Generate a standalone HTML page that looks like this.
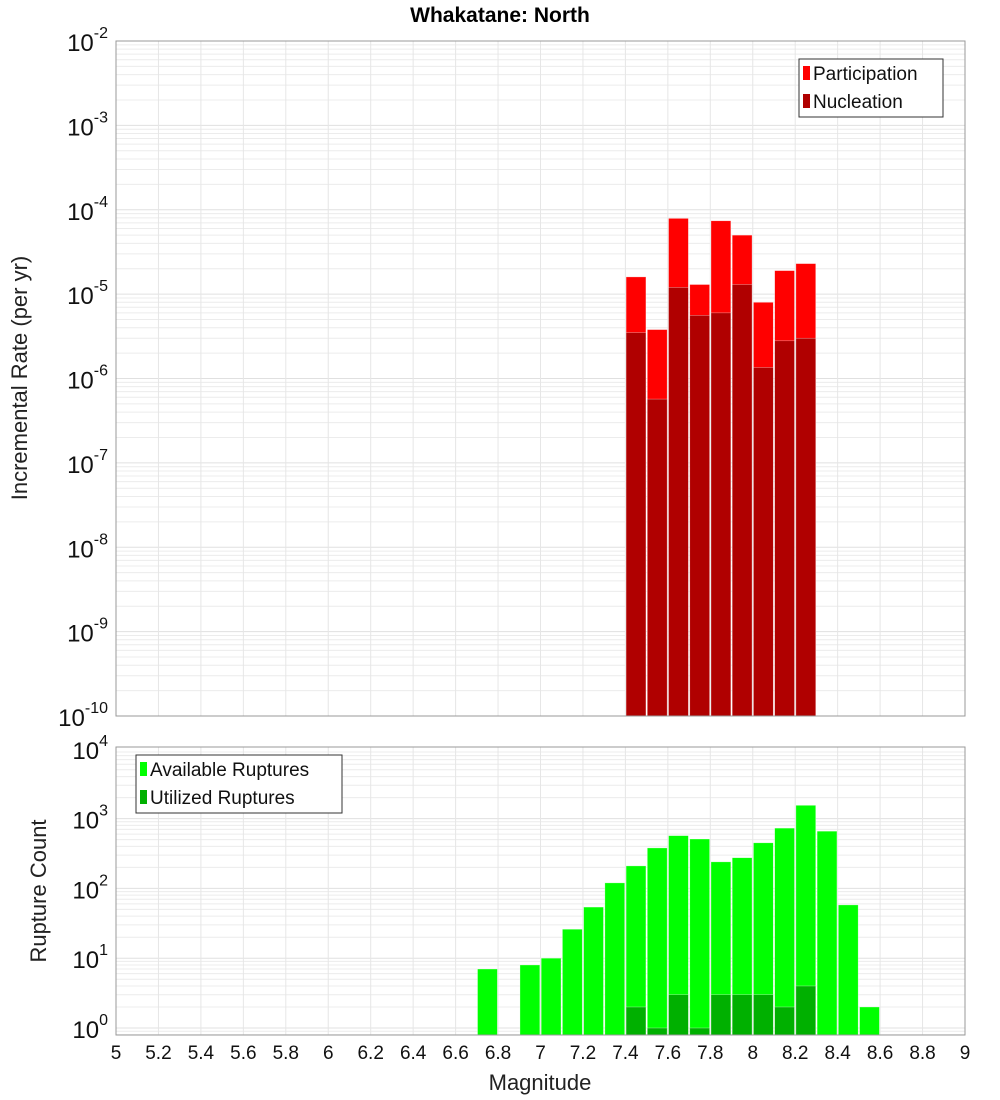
<!DOCTYPE html>
<html><head><meta charset="utf-8"><style>
html,body{margin:0;padding:0;background:#fff;}
svg{display:block;font-family:"Liberation Sans","DejaVu Sans",sans-serif;}
</style></head><body>
<svg id="chart" width="1000" height="1100">
<text x="500" y="22" text-anchor="middle" font-size="21" font-weight="bold">Whakatane: North</text>
<text transform="translate(27,378) rotate(-90)" text-anchor="middle" font-size="22" fill="#222">Incremental Rate (per yr)</text>
<text transform="translate(46,891) rotate(-90)" text-anchor="middle" font-size="22" fill="#222">Rupture Count</text>
<text x="540" y="1090" text-anchor="middle" font-size="22" fill="#222">Magnitude</text>
<g id="top"></g><g id="bot"></g>
</svg>
<script>
const mags = [7.45,7.55,7.65,7.75,7.85,7.95,8.05,8.15,8.25];
const participation = [1.6e-5,3.8e-6,7.9e-5,1.3e-5,7.4e-5,5.0e-5,8.0e-6,1.9e-5,2.3e-5];
const nucleation = [3.5e-6,5.7e-7,1.2e-5,5.6e-6,6.0e-6,1.3e-5,1.35e-6,2.8e-6,3.0e-6];
const countMags = [6.75,6.95,7.05,7.15,7.25,7.35,7.45,7.55,7.65,7.75,7.85,7.95,8.05,8.15,8.25,8.35,8.45,8.55];
const available = [7,8,10,26,54,120,210,380,570,510,240,275,450,730,1550,660,58,2];
const utilizedMags = [7.45,7.55,7.65,7.75,7.85,7.95,8.05,8.15,8.25];
const utilized = [2,1,3,1,3,3,3,2,4];
const xTicks = [5,5.2,5.4,5.6,5.8,6,6.2,6.4,6.6,6.8,7,7.2,7.4,7.6,7.8,8,8.2,8.4,8.6,8.8,9];
const topExps = [-2,-3,-4,-5,-6,-7,-8,-9,-10];
const botExps = [4,3,2,1,0];

const NS="http://www.w3.org/2000/svg";
const X0=116,X1=965;
const xs=m=>X0+(m-5)*(X1-X0)/4;
const yTop=v=>41+(-2-Math.log10(v))*84.375;
const yBot=v=>1028-Math.log10(v)*69.8;
function mk(p,tag,a){const e=document.createElementNS(NS,tag);for(const k in a)e.setAttribute(k,a[k]);p.appendChild(e);return e;}
const svg=document.getElementById('chart');
const gT=document.getElementById('top'), gB=document.getElementById('bot');

function panel(g,top,bot,ys,lo,hi,name){
  const bg=mk(g,'rect',{x:X0,y:top,width:X1-X0,height:bot-top,fill:'#fff'});
  
  
  for(let e=lo;e<hi;e++)for(let k=1;k<10;k++){const y=ys(k*Math.pow(10,e));if(y<top||y>bot)continue;
    const l=mk(g,'line',{x1:X0,x2:X1,y1:y,y2:y,stroke:k==1?'#e0e0e0':'#ececec','stroke-width':1});
    
    }
  xTicks.forEach(t=>{const l=mk(g,'line',{x1:xs(t),x2:xs(t),y1:top,y2:bot,stroke:'#e6e6e6','stroke-width':1});
    
    });
}
panel(gT,41,716,yTop,-10,-2,'top');
panel(gB,747,1035,yBot,-1,4,'bottom');

const bw=(X1-X0)/40;
function bar(g,m,y,yb,col,nm){const r=mk(g,'rect',{x:xs(m)-bw/2+0.7,y:y,width:bw-1.4,height:Math.max(0,yb-y),fill:col,stroke:'#fff','stroke-opacity':0.5,'stroke-width':0.6});
  
  }
mags.forEach((m,i)=>bar(gT,m,yTop(participation[i]),716,'#ff0000','participation-bar'));
mags.forEach((m,i)=>bar(gT,m,yTop(nucleation[i]),716,'#b00000','nucleation-bar'));
countMags.forEach((m,i)=>bar(gB,m,yBot(available[i]),1035,'#00ff00','available-bar'));
utilizedMags.forEach((m,i)=>bar(gB,m,yBot(utilized[i]),1035,'#00b000','utilized-bar'));

[[41,716,'top'],[747,1035,'bottom']].forEach(([t,b,n])=>{const r=mk(svg,'rect',{x:X0,y:t,width:X1-X0,height:b-t,fill:'none',stroke:'#999','stroke-width':1});
  
  });

function ylab(y,e,name){const t=mk(svg,'text',{x:108,y:y+10,'text-anchor':'end','font-size':24,fill:'#111'});
  
  
  t.textContent='10';const s=mk(t,'tspan',{dy:-13,'font-size':16});s.textContent=String(e);}
topExps.forEach(e=>ylab(yTop(Math.pow(10,e)),e,'top-y-tick-label'));
botExps.forEach(e=>ylab(yBot(Math.pow(10,e)),e,'bottom-y-tick-label'));
xTicks.forEach(t=>{const tx=mk(svg,'text',{x:xs(t),y:1059,'text-anchor':'middle','font-size':19,fill:'#111'});
  
  
  tx.textContent=String(t);});

function legend(x,y,w,items,name){const g=mk(svg,'g',{});
  
  
  mk(g,'rect',{x:x,y:y,width:w,height:58,fill:'#fff',stroke:'#333','stroke-width':1});
  items.forEach(([lab,col],i)=>{const yy=y+14+i*28;
    const sw=mk(g,'rect',{x:x+4,y:yy-7,width:7,height:14,fill:col});
    
    
    const t=mk(g,'text',{x:x+14,y:yy+7,'font-size':19,fill:'#111'});
    
    
    t.textContent=lab;});}
legend(799,59,144,[['Participation','#ff0000'],['Nucleation','#b00000']],'top-legend');
legend(136,755,206,[['Available Ruptures','#00ff00'],['Utilized Ruptures','#00b000']],'bottom-legend');
</script>
</body></html>
